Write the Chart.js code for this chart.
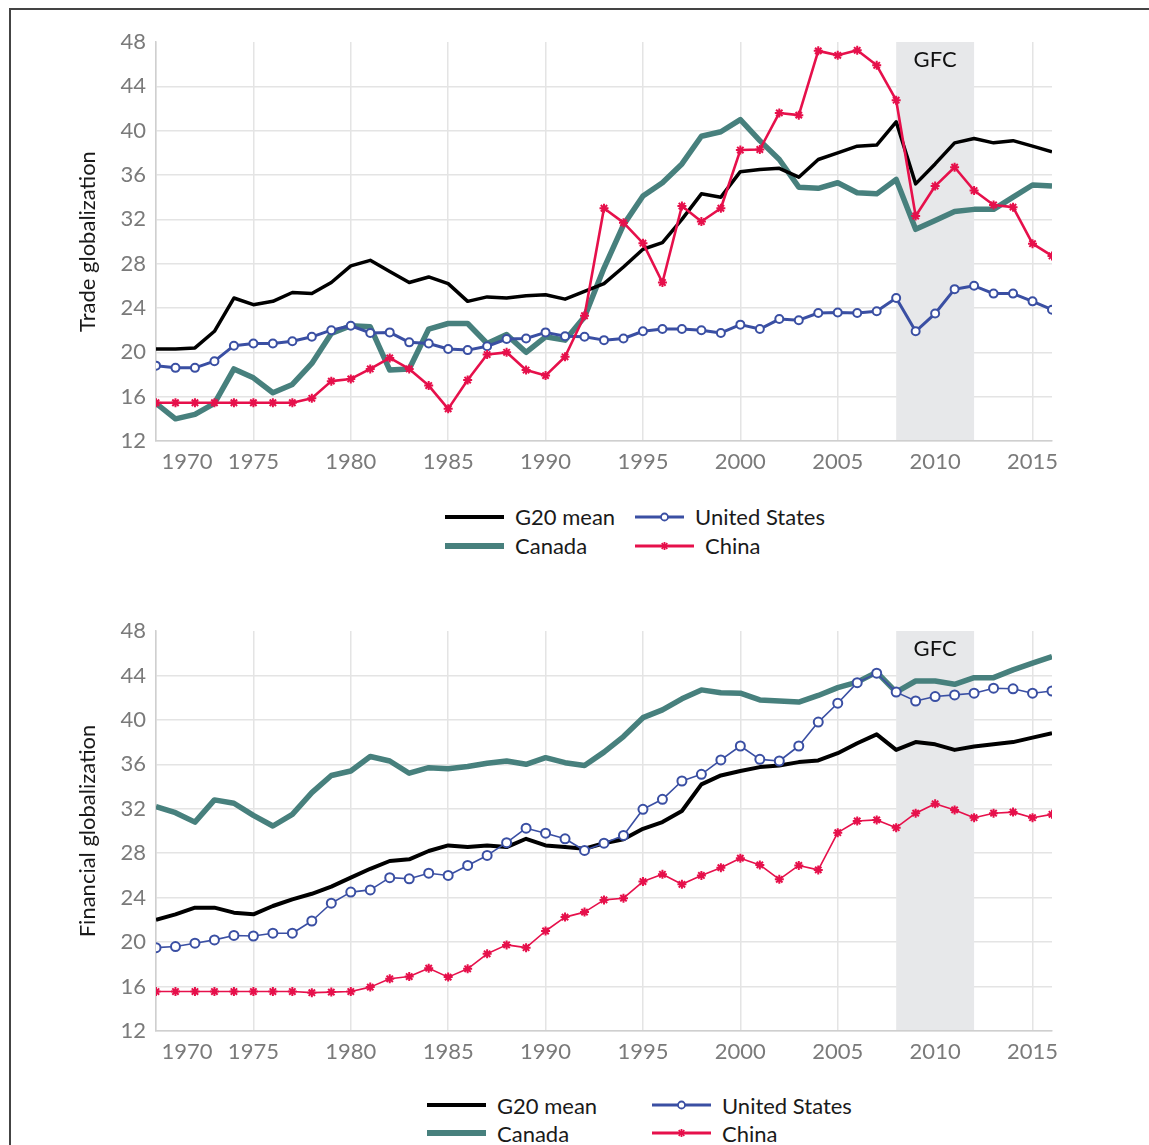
<!DOCTYPE html>
<html>
<head>
<meta charset="utf-8">
<script src="https://cdn.jsdelivr.net/npm/chart.js@4"></script>
<style>
  body { margin: 0; width: 1149px; height: 1145px; overflow: hidden; background: #fff; position: relative; font-family: Lato, sans-serif; }
  #frame { position: absolute; left: 9px; top: 8px; right: -10px; bottom: -10px; border-left: 2px solid #444; border-top: 2px solid #444; }
  canvas { position: absolute; left: 0; }
  .legend { position: absolute; display: grid; grid-auto-flow: column; font-size: 22px; color: #1a1a1a; }
  .legend .item { display: flex; align-items: center; white-space: nowrap; }
  .legend svg { margin-right: 11px; }
</style>
</head>
<body>
<div id="frame"></div>
<canvas id="trade" width="1149" height="480" style="top:0"></canvas>
<div class="legend" id="trade-legend" style="left:445px; top:502px; grid-template-columns:190px 190px; grid-template-rows:29px 29px;"></div>
<canvas id="financial" width="1149" height="481" style="top:589px"></canvas>
<div class="legend" id="financial-legend" style="left:427px; top:1091px; grid-template-columns:225px 225px; grid-template-rows:28px 28px;"></div>
<script>
const years = [
    1970, 1971, 1972, 1973, 1974, 1975, 1976, 1977, 1978, 1979,
    1980, 1981, 1982, 1983, 1984, 1985, 1986, 1987, 1988, 1989,
    1990, 1991, 1992, 1993, 1994, 1995, 1996, 1997, 1998, 1999,
    2000, 2001, 2002, 2003, 2004, 2005, 2006, 2007, 2008, 2009,
    2010, 2011, 2012, 2013, 2014, 2015, 2016
];
const gfcStart = 2008;
const gfcEnd = 2012;
const yTicks = [12, 16, 20, 24, 28, 32, 36, 40, 44, 48];

// Trade globalization
const tradeG20 = [
    20.3, 20.3, 20.4, 21.9, 24.9, 24.3, 24.6, 25.4, 25.3, 26.3,
    27.8, 28.3, 27.3, 26.3, 26.8, 26.2, 24.6, 25.0, 24.9, 25.1,
    25.2, 24.8, 25.5, 26.2, 27.7, 29.3, 29.9, 32.0, 34.3, 34.0,
    36.3, 36.5, 36.6, 35.8, 37.4, 38.0, 38.6, 38.7, 40.8, 35.2,
    37.0, 38.9, 39.3, 38.9, 39.1, 38.6, 38.1
];
const tradeUS = [
    18.8, 18.6, 18.6, 19.2, 20.6, 20.8, 20.8, 21.0, 21.4, 22.0,
    22.4, 21.75, 21.8, 20.9, 20.8, 20.3, 20.2, 20.55, 21.2, 21.25,
    21.8, 21.45, 21.4, 21.1, 21.25, 21.9, 22.1, 22.1, 22.0, 21.75,
    22.5, 22.1, 23.0, 22.9, 23.55, 23.6, 23.55, 23.7, 24.9, 21.9,
    23.5, 25.7, 26.0, 25.3, 25.3, 24.6, 23.85
];
const tradeCanada = [
    15.4, 14.0, 14.4, 15.4, 18.5, 17.7, 16.35, 17.1, 19.0, 21.7,
    22.4, 22.3, 18.4, 18.5, 22.1, 22.6, 22.6, 20.8, 21.6, 20.0,
    21.4, 21.1, 23.2, 27.6, 31.5, 34.1, 35.3, 37.0, 39.5, 39.9,
    41.0, 39.1, 37.4, 34.9, 34.8, 35.3, 34.4, 34.3, 35.6, 31.1,
    31.9, 32.7, 32.9, 32.9, 34.0, 35.1, 35.0
];
const tradeChina = [
    15.45, 15.45, 15.45, 15.45, 15.45, 15.45, 15.45, 15.45, 15.85, 17.4,
    17.6, 18.5, 19.5, 18.5, 17.0, 14.9, 17.5, 19.8, 20.0, 18.4,
    17.9, 19.6, 23.3, 33.0, 31.7, 29.85, 26.3, 33.2, 31.8, 33.0,
    38.25, 38.3, 41.6, 41.4, 47.2, 46.8, 47.25, 45.9, 42.75, 32.3,
    35.0, 36.7, 34.6, 33.3, 33.1, 29.8, 28.7
];

// Financial globalization
const finG20 = [
    22.0, 22.5, 23.1, 23.1, 22.65, 22.5, 23.25, 23.85, 24.35, 25.0,
    25.8, 26.6, 27.3, 27.45, 28.2, 28.7, 28.55, 28.7, 28.55, 29.3,
    28.7, 28.55, 28.4, 28.9, 29.25, 30.2, 30.8, 31.8, 34.2, 35.0,
    35.4, 35.75, 35.9, 36.2, 36.35, 37.0, 37.9, 38.7, 37.3, 38.0,
    37.8, 37.3, 37.6, 37.8, 38.0, 38.4, 38.8
];
const finUS = [
    19.5, 19.6, 19.9, 20.2, 20.6, 20.55, 20.8, 20.8, 21.9, 23.5,
    24.5, 24.7, 25.8, 25.7, 26.2, 26.0, 26.9, 27.8, 28.95, 30.25,
    29.8, 29.3, 28.25, 28.9, 29.6, 31.95, 32.85, 34.5, 35.1, 36.4,
    37.65, 36.45, 36.3, 37.65, 39.8, 41.5, 43.35, 44.2, 42.5, 41.7,
    42.1, 42.25, 42.4, 42.85, 42.8, 42.4, 42.6
];
const finCanada = [
    32.2, 31.65, 30.8, 32.8, 32.5, 31.4, 30.45, 31.5, 33.45, 35.0,
    35.4, 36.7, 36.3, 35.2, 35.7, 35.6, 35.8, 36.1, 36.3, 36.0,
    36.6, 36.15, 35.9, 37.1, 38.5, 40.2, 40.9, 41.9, 42.7, 42.45,
    42.4, 41.8, 41.7, 41.6, 42.2, 42.9, 43.4, 44.3, 42.5, 43.5,
    43.5, 43.2, 43.8, 43.8, 44.5, 45.1, 45.7
];
const finChina = [
    15.55, 15.55, 15.55, 15.55, 15.55, 15.55, 15.55, 15.55, 15.45, 15.5,
    15.55, 15.95, 16.7, 16.9, 17.65, 16.85, 17.6, 18.95, 19.75, 19.5,
    21.0, 22.25, 22.7, 23.8, 23.95, 25.45, 26.1, 25.2, 26.0, 26.7,
    27.55, 26.95, 25.65, 26.9, 26.5, 29.85, 30.9, 31.0, 30.3, 31.6,
    32.45, 31.9, 31.2, 31.6, 31.7, 31.2, 31.5
];

const BLACK = '#000000';
const TEAL = '#47807d';
const BLUE = '#3a4fa3';
const RED = '#e6104b';
const GRID = '#e4e4e4';
const TICK = '#7a7a7a';

function pts(vals) {
    return vals.map((v, i) => ({ x: years[i], y: v }));
}

// shaded GFC band + label, under the lines
const gfcBand = {
    id: 'gfcBand',
    beforeDatasetsDraw(chart) {
        const { ctx, chartArea, scales: { x } } = chart;
        const x0 = x.getPixelForValue(gfcStart);
        const x1 = x.getPixelForValue(gfcEnd);
        ctx.save();
        ctx.fillStyle = '#e7e8ea';
        ctx.fillRect(x0, chartArea.top, x1 - x0, chartArea.bottom - chartArea.top - 1);
        ctx.fillStyle = '#111';
        ctx.font = '22px Lato';
        ctx.textAlign = 'center';
        ctx.textBaseline = 'middle';
        ctx.fillText('GFC', (x0 + x1) / 2, chartArea.top + 18);
        ctx.restore();
    }
};

function makeChart(id, title, g20, us, canada, china, thin) {
    const datasets = [
        { label: 'G20 mean', data: pts(g20), borderColor: BLACK, borderWidth: thin ? 4 : 3.5, pointRadius: 0, order: 3, legendWidth: 4 },
        { label: 'Canada', data: pts(canada), borderColor: TEAL, borderWidth: 5.5, pointRadius: 0, order: 4, legendWidth: 6 },
        { label: 'United States', data: pts(us), borderColor: BLUE, borderWidth: thin ? 1.6 : 3,
          pointStyle: 'circle', pointRadius: thin ? 4.5 : 4, pointBackgroundColor: '#fff', pointBorderColor: BLUE,
          pointBorderWidth: 2, order: 2, legendWidth: 3 },
        { label: 'China', data: pts(china), borderColor: RED, borderWidth: thin ? 1.6 : 2.6,
          pointStyle: 'star', pointRadius: 4.5, pointBorderColor: RED, pointBackgroundColor: RED,
          pointBorderWidth: 2, order: 1, legendWidth: 3 }
    ];

    new Chart(document.getElementById(id), {
        type: 'line',
        data: { datasets: datasets },
        options: {
            responsive: false,
            animation: false,
            devicePixelRatio: 1,
            layout: { padding: { left: 0, right: 97, top: 42, bottom: 0 } },
            plugins: { legend: { display: false }, tooltip: { enabled: false } },
            elements: { line: { tension: 0, borderJoinStyle: 'round', borderCapStyle: 'butt' } },
            scales: {
                x: {
                    type: 'linear',
                    min: 1970,
                    max: 2016,
                    afterFit: s => { s.height = 39; },
                    grid: { color: GRID, lineWidth: 1.5, drawTicks: false },
                    border: { color: '#cfcfcf', width: 1.5 },
                    ticks: {
                        stepSize: 5,
                        includeBounds: false,
                        autoSkip: false,
                        padding: 8,
                        color: TICK,
                        font: { family: 'Lato', size: 22 },
                        maxRotation: 0,
                        // first label sits inside the plot, like the original
                        callback: (v, i) => (i === 0 ? ' '.repeat(11) : '') + String(v)
                    }
                },
                y: {
                    min: 12,
                    max: 48,
                    afterFit: s => { s.width = 156; },
                    afterBuildTicks: s => { s.ticks = yTicks.map(v => ({ value: v })); },
                    grid: { color: c => (c.tick && c.tick.value === 48 ? 'rgba(0,0,0,0)' : GRID), lineWidth: 1.5, drawTicks: false },
                    border: { color: '#cfcfcf', width: 1.5 },
                    ticks: { padding: 10, color: TICK, font: { family: 'Lato', size: 22 } },
                    title: {
                        display: true,
                        text: title,
                        color: '#1a1a1a',
                        font: { family: 'Lato', size: 22 },
                        padding: { top: 75, bottom: 0 }
                    }
                }
            }
        },
        plugins: [gfcBand]
    });
    return datasets;
}

function legendSwatch(ds) {
    const w = 59, h = 16, cy = 8, cx = w / 2;
    let marker = '';
    if (ds.pointStyle === 'circle') {
        marker = `<circle cx="${cx}" cy="${cy}" r="3.5" fill="#fff" stroke="${ds.borderColor}" stroke-width="1.8"/>`;
    } else if (ds.pointStyle === 'star') {
        const r = 4;
        marker = `<g stroke="${ds.borderColor}" stroke-width="1.8">` +
            `<line x1="${cx}" y1="${cy - r}" x2="${cx}" y2="${cy + r}"/>` +
            `<line x1="${cx - r * 0.7}" y1="${cy - r * 0.7}" x2="${cx + r * 0.7}" y2="${cy + r * 0.7}"/>` +
            `<line x1="${cx - r * 0.7}" y1="${cy + r * 0.7}" x2="${cx + r * 0.7}" y2="${cy - r * 0.7}"/></g>`;
    }
    return `<svg width="${w}" height="${h}"><line x1="0" y1="${cy}" x2="${w}" y2="${cy}" stroke="${ds.borderColor}" stroke-width="${ds.legendWidth}"/>${marker}</svg>`;
}

function makeLegend(id, datasets) {
    const box = document.getElementById(id);
    datasets.forEach(ds => {
        const item = document.createElement('div');
        item.className = 'item';
        item.innerHTML = legendSwatch(ds) + '<span>' + ds.label + '</span>';
        box.appendChild(item);
    });
}

const tradeSets = makeChart('trade', 'Trade globalization', tradeG20, tradeUS, tradeCanada, tradeChina, false);
makeLegend('trade-legend', tradeSets);

const finSets = makeChart('financial', 'Financial globalization', finG20, finUS, finCanada, finChina, true);
makeLegend('financial-legend', finSets);
</script>
</body>
</html>
